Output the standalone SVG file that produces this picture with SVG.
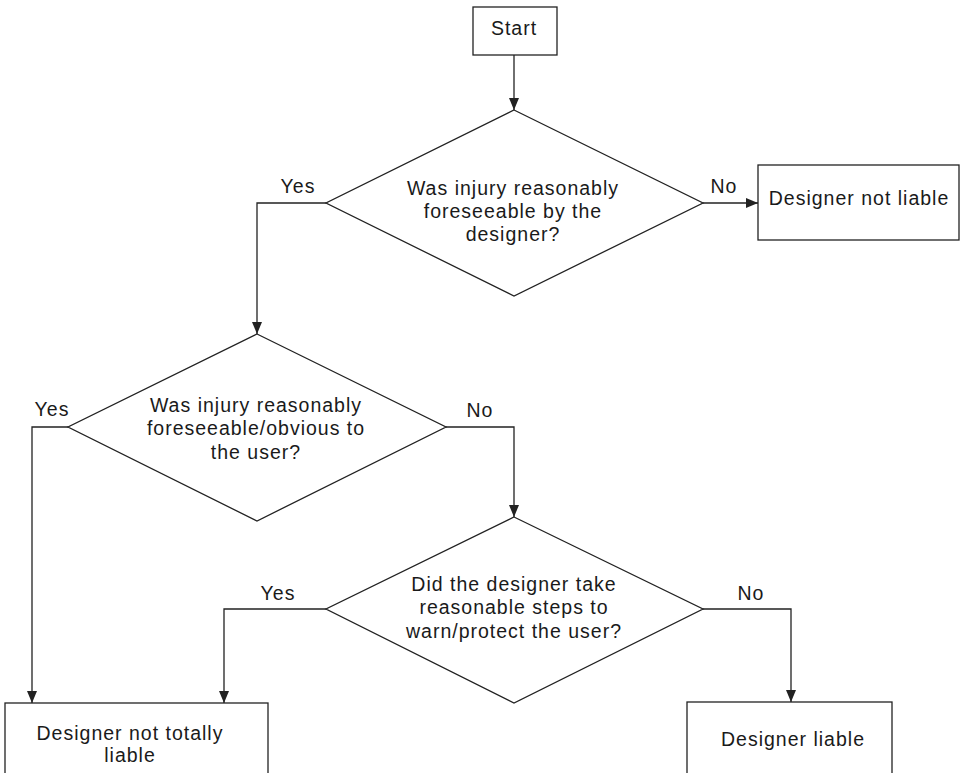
<svg xmlns="http://www.w3.org/2000/svg" width="963" height="773" viewBox="0 0 963 773">
<style>
.s{fill:#fff;stroke:#222;stroke-width:1.3}
.c{fill:none;stroke:#222;stroke-width:1.3}
text{font-family:"Liberation Sans",Arial,sans-serif;font-size:19.5px;letter-spacing:1px;fill:#1a1a1a}
.m{text-anchor:middle}
</style>
<defs>
<marker id="a" viewBox="0 0 12 10" refX="12" refY="5" markerWidth="12" markerHeight="10" markerUnits="userSpaceOnUse" orient="auto">
<path d="M0,0 L12,5 L0,10 Z" fill="#222"/>
</marker>
</defs>
<rect width="963" height="773" fill="#fff"/>
<g id="connectors">
<path class="c" d="M514,55 V110" marker-end="url(#a)"/>
<path class="c" d="M326,203 H257 V334" marker-end="url(#a)"/>
<path class="c" d="M703,203 H758" marker-end="url(#a)"/>
<path class="c" d="M68,427 H32 V703" marker-end="url(#a)"/>
<path class="c" d="M446,427 H514 V517" marker-end="url(#a)"/>
<path class="c" d="M326,609 H224 V703" marker-end="url(#a)"/>
<path class="c" d="M703,609 H791 V702" marker-end="url(#a)"/>
<text x="298" y="193" class="m">Yes</text>
<text x="724" y="193" class="m">No</text>
<text x="52" y="416" class="m">Yes</text>
<text x="480" y="417" class="m">No</text>
<text x="278" y="600" class="m">Yes</text>
<text x="751" y="600" class="m">No</text>
</g>
<g id="start">
<rect class="s" x="473" y="7" width="84" height="48"/>
<text x="514" y="35" class="m">Start</text>
</g>
<g id="q1">
<polygon class="s" points="514,110 703,203 514,296 326,203"/>
<text x="513" y="195" class="m">Was injury reasonably</text>
<text x="513" y="218" class="m">foreseeable by the</text>
<text x="513" y="241" class="m">designer?</text>
</g>
<g id="notliable">
<rect class="s" x="758" y="165" width="201" height="75"/>
<text x="859" y="205" class="m">Designer not liable</text>
</g>
<g id="q2">
<polygon class="s" points="257,334 446,427 257,521 68,427"/>
<text x="256" y="412" class="m">Was injury reasonably</text>
<text x="256" y="435" class="m">foreseeable/obvious to</text>
<text x="256" y="459" class="m">the user?</text>
</g>
<g id="q3">
<polygon class="s" points="514,517 703,609 514,703 326,609"/>
<text x="514" y="591" class="m">Did the designer take</text>
<text x="514" y="614" class="m">reasonable steps to</text>
<text x="514" y="638" class="m">warn/protect the user?</text>
</g>
<g id="nottotally">
<rect class="s" x="5" y="703" width="263" height="90"/>
<text x="130" y="740" class="m">Designer not totally</text>
<text x="130" y="762" class="m">liable</text>
</g>
<g id="liable">
<rect class="s" x="687" y="702" width="205" height="90"/>
<text x="793" y="746" class="m">Designer liable</text>
</g>
</svg>
